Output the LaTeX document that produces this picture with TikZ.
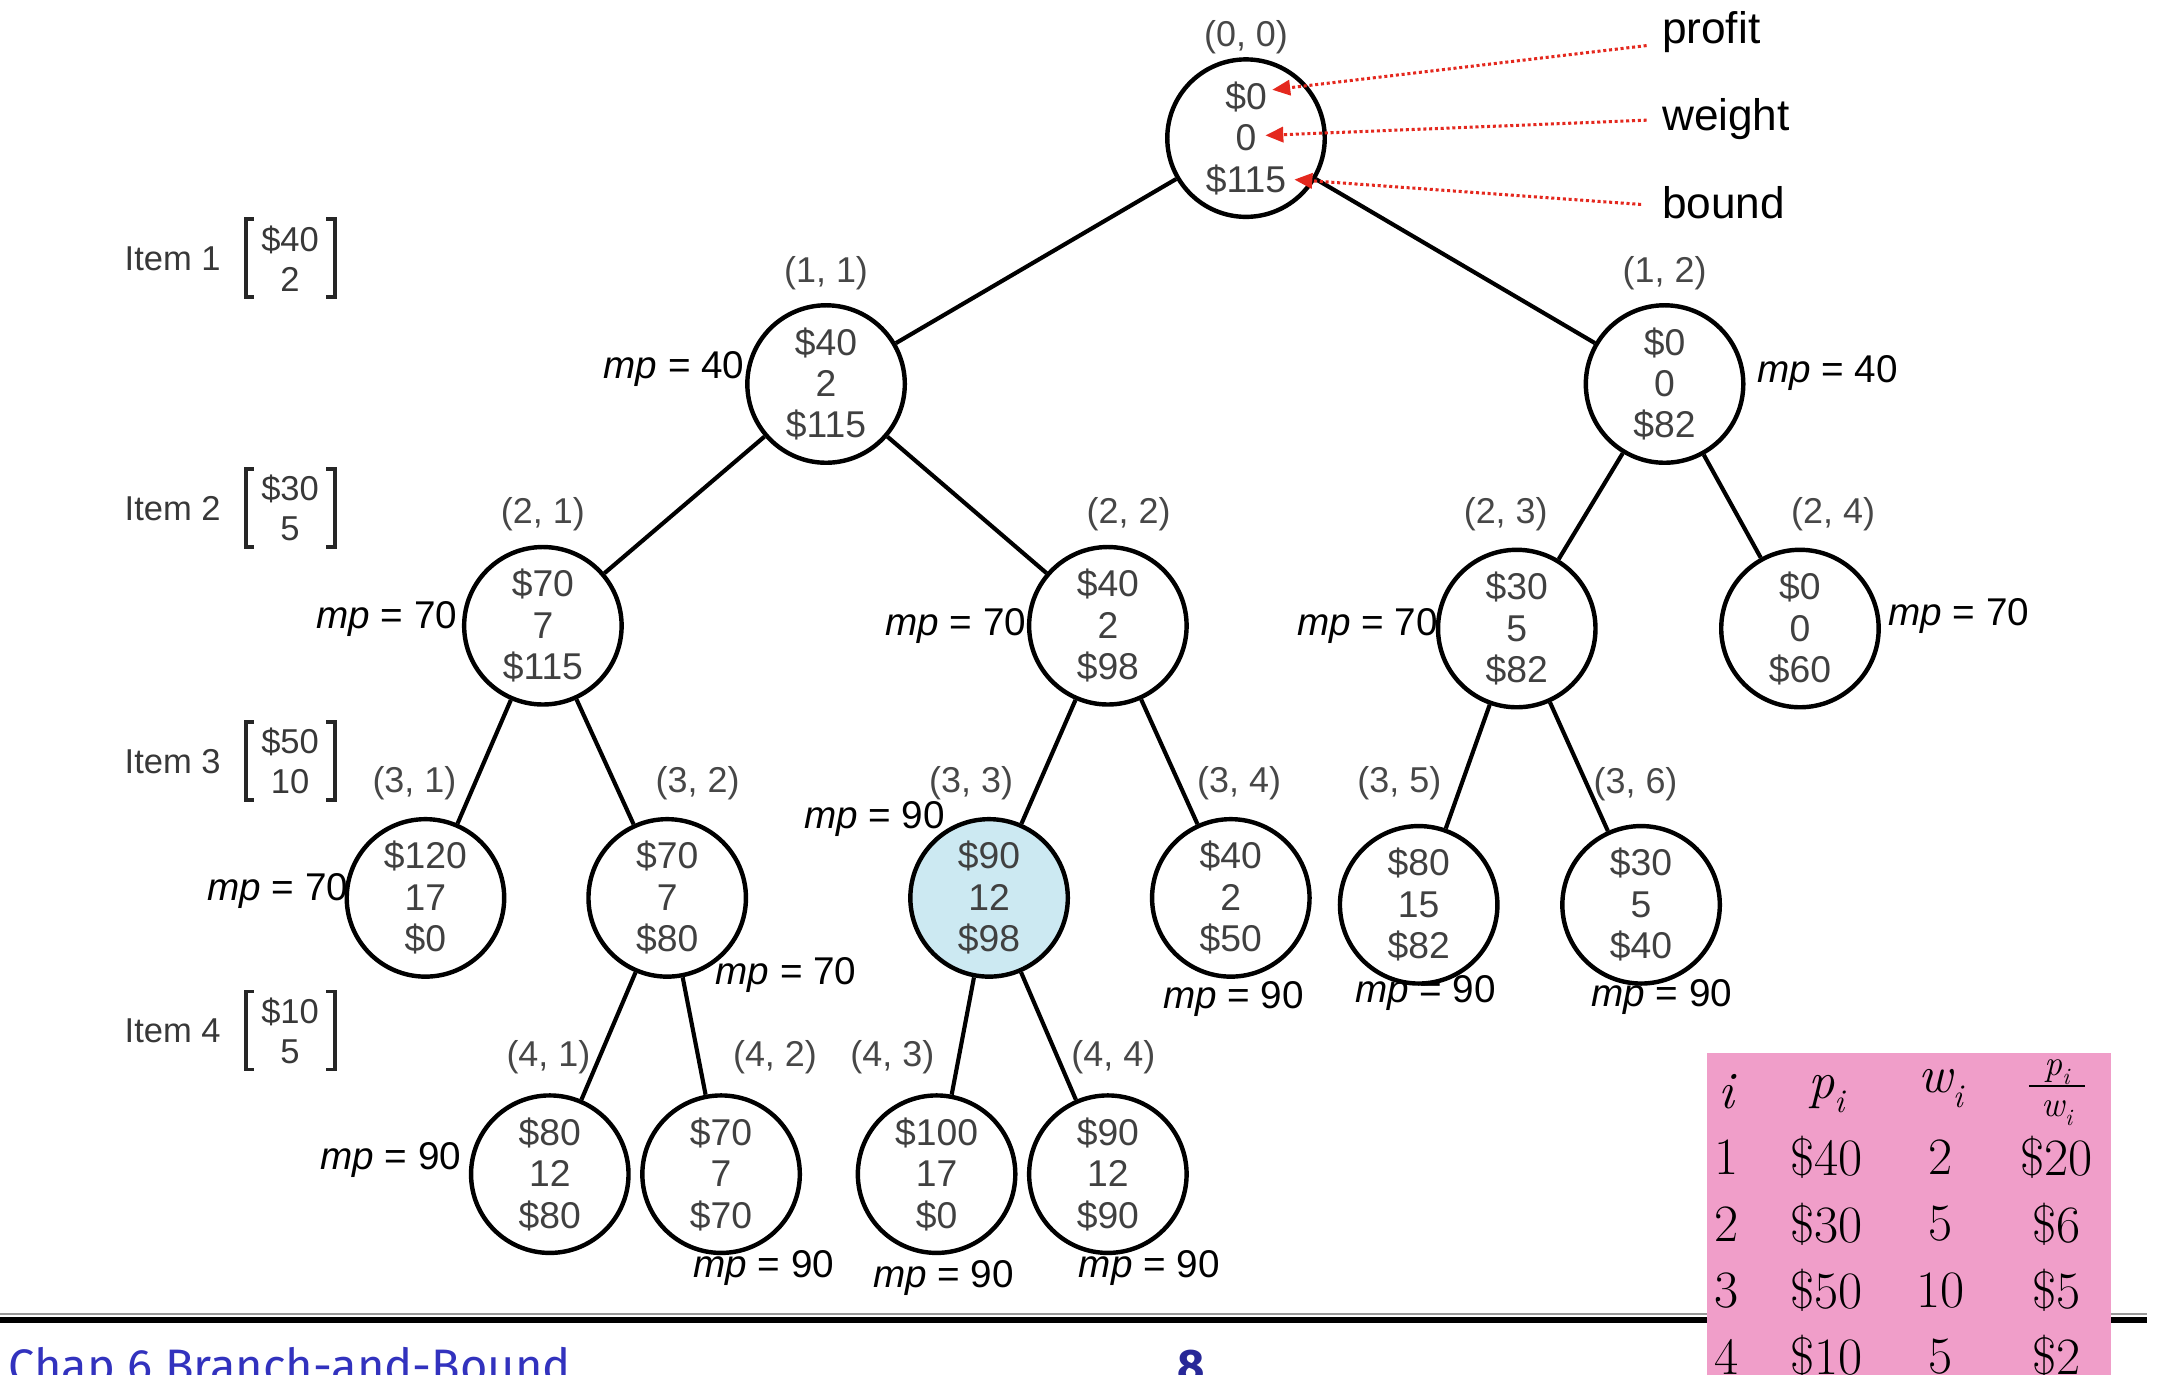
\documentclass[tikz,border=0pt]{standalone}
\usepackage{fontspec}
\setsansfont{Liberation Sans}
\renewcommand{\familydefault}{\sfdefault}
\newfontfamily\footfont{Fira Sans}
\usetikzlibrary{arrows.meta}
\definecolor{pinkbg}{RGB}{240,158,201}
\definecolor{hlblue}{RGB}{204,233,242}
\definecolor{footblue}{RGB}{50,50,190}
\definecolor{annred}{RGB}{228,40,30}
\newcommand{\subi}{\raisebox{-0.28em}{\fontsize{24}{24}\selectfont\itshape i}}
\begin{document}
\begin{tikzpicture}[x=1pt,y=-1pt,
  st/.style={circle, draw=black, line width=3.2pt, minimum size=114pt, inner sep=0pt, align=center,
     font=\fontsize{27}{30}\selectfont, text=black!75},
  poslbl/.style={font=\fontsize{26}{28}\selectfont, text=black!72},
  mpl/.style={font=\fontsize{28}{32}\selectfont, text=black, inner sep=1pt},
  edge/.style={line width=3pt},
  ann/.style={annred, dotted, line width=2.2pt, -{Triangle[length=13pt,width=11pt]}},
  annlbl/.style={font=\fontsize{32}{36}\selectfont, anchor=west, inner sep=0pt},
  itm/.style={font=\fontsize{25}{30}\selectfont, text=black!78},
  vec/.style={minimum width=64pt, minimum height=56pt, inner sep=0pt, align=center,
     font=\fontsize{25}{29}\selectfont, text=black!78},
  brk/.style={line width=2.8pt, black!85},
  tb/.style={font=\rmfamily\fontsize{38}{40}\selectfont, inner sep=0pt},
  tbs/.style={font=\rmfamily\fontsize{26}{28}\selectfont, inner sep=1pt}
]
\useasboundingbox (0,0) rectangle (1568,994.7);
\clip (0,0) rectangle (1568,994.7);

% tree nodes
\node[st] (n00) at (902,100) {\$0\\0\\\$115};
\node[st] (n11) at (598,278) {\$40\\2\\\$115};
\node[st] (n12) at (1205,278) {\$0\\0\\\$82};
\node[st] (n21) at (393,453) {\$70\\7\\\$115};
\node[st] (n22) at (802,453) {\$40\\2\\\$98};
\node[st] (n23) at (1098,455) {\$30\\5\\\$82};
\node[st] (n24) at (1303,455) {\$0\\0\\\$60};
\node[st] (n31) at (308,650) {\$120\\17\\\$0};
\node[st] (n32) at (483,650) {\$70\\7\\\$80};
\node[st, fill=hlblue] (n33) at (716,650) {\$90\\12\\\$98};
\node[st] (n34) at (891,650) {\$40\\2\\\$50};
\node[st] (n35) at (1027,655) {\$80\\15\\\$82};
\node[st] (n36) at (1188,655) {\$30\\5\\\$40};
\node[st] (n41) at (398,850) {\$80\\12\\\$80};
\node[st] (n42) at (522,850) {\$70\\7\\\$70};
\node[st] (n43) at (678,850) {\$100\\17\\\$0};
\node[st] (n44) at (802,850) {\$90\\12\\\$90};

% edges
\draw[edge] (n00) -- (n11);
\draw[edge] (n00) -- (n12);
\draw[edge] (n11) -- (n21);
\draw[edge] (n11) -- (n22);
\draw[edge] (n12) -- (n23);
\draw[edge] (n12) -- (n24);
\draw[edge] (n21) -- (n31);
\draw[edge] (n21) -- (n32);
\draw[edge] (n22) -- (n33);
\draw[edge] (n22) -- (n34);
\draw[edge] (n23) -- (n35);
\draw[edge] (n23) -- (n36);
\draw[edge] (n32) -- (n41);
\draw[edge] (n32) -- (n42);
\draw[edge] (n33) -- (n43);
\draw[edge] (n33) -- (n44);

% position labels
\node[poslbl] (p00) at (902,27) {(0, 0)};
\node[poslbl] (p11) at (598,198) {(1, 1)};
\node[poslbl] (p12) at (1205,198) {(1, 2)};
\node[poslbl] (p21) at (393,372) {(2, 1)};
\node[poslbl] (p22) at (817,372) {(2, 2)};
\node[poslbl] (p23) at (1090,372) {(2, 3)};
\node[poslbl] (p24) at (1327,372) {(2, 4)};
\node[poslbl] (p31) at (300,567) {(3, 1)};
\node[poslbl] (p32) at (505,567) {(3, 2)};
\node[poslbl] (p33) at (703,567) {(3, 3)};
\node[poslbl] (p34) at (897,567) {(3, 4)};
\node[poslbl] (p35) at (1013,567) {(3, 5)};
\node[poslbl] (p36) at (1184,568) {(3, 6)};
\node[poslbl] (p41) at (397,765) {(4, 1)};
\node[poslbl] (p42) at (561,765) {(4, 2)};
\node[poslbl] (p43) at (646,765) {(4, 3)};
\node[poslbl] (p44) at (806,765) {(4, 4)};

% mp labels
\node[mpl] (m11) at (488,267) {\textit{mp} = 40};
\node[mpl] (m12) at (1323,270) {\textit{mp} = 40};
\node[mpl] (m21) at (280,448) {\textit{mp} = 70};
\node[mpl] (m22) at (692,453) {\textit{mp} = 70};
\node[mpl] (m23) at (990,453) {\textit{mp} = 70};
\node[mpl] (m24) at (1418,446) {\textit{mp} = 70};
\node[mpl] (m31) at (201,645) {\textit{mp} = 70};
\node[mpl] (m33) at (633,593) {\textit{mp} = 90};
\node[mpl] (m32) at (569,706) {\textit{mp} = 70};
\node[mpl] (m34) at (893,723) {\textit{mp} = 90};
\node[mpl] (m35) at (1032,719) {\textit{mp} = 90};
\node[mpl] (m36) at (1203,722) {\textit{mp} = 90};
\node[mpl] (m41) at (283,840) {\textit{mp} = 90};
\node[mpl] (m42) at (553,918) {\textit{mp} = 90};
\node[mpl] (m43) at (683,925) {\textit{mp} = 90};
\node[mpl] (m44) at (832,918) {\textit{mp} = 90};

% annotations
\node[annlbl] (lprofit) at (1203,23) {profit};
\node[annlbl] (lweight) at (1203,86) {weight};
\node[annlbl] (lbound) at (1203,147) {bound};
\coordinate (tprofit) at (921,65);
\coordinate (tweight) at (916,98);
\coordinate (tbound) at (937,130);
\draw[ann] ([xshift=-11pt,yshift=-10pt]lprofit.west) -- (tprofit);
\draw[ann] ([xshift=-11pt,yshift=-1pt]lweight.west) -- (tweight);
\draw[ann] ([xshift=-15pt,yshift=-1pt]lbound.west) -- (tbound);

% items
\foreach \k/\y/\p/\w in {1/187/40/2, 2/368/30/5, 3/551/50/10, 4/746/10/5}{
  \node[itm] (it\k) at (125,\y) {Item \k};
  \node[vec] (v\k) at (210,\y) {\$\p\\\w};
  \draw[brk] ([xshift=6pt]v\k.north west) -- (v\k.north west) -- (v\k.south west) -- ([xshift=6pt]v\k.south west);
  \draw[brk] ([xshift=-6pt]v\k.north east) -- (v\k.north east) -- (v\k.south east) -- ([xshift=-6pt]v\k.south east);
}

% footer
\draw[black!40, line width=1.5pt] (0,951.5) -- (1554,951.5);
\draw[black, line width=4.5pt] (0,955.5) -- (1554,955.5);
\node[anchor=base west, inner sep=0pt, font=\footfont\fontsize{34}{36}\selectfont, text=footblue] (foot) at (6,1001) {Chap 6 Branch-and-Bound};
\node[anchor=base, inner sep=0pt, font=\footfont\bfseries\fontsize{34}{36}\selectfont, text=footblue!80!black] (pg) at (862,1001) {8};

% table
\fill[pinkbg] (1236,762) rectangle (1528,1000);
\node[tb] (h1) at (1250,790) {\itshape i};
\node[tb] (h2) at (1322,792) {\itshape p\subi};
\node[tb] (h3) at (1405,788) {\itshape w\subi};
\node[tbs] (h4n) at (1489,776) {\itshape p\raisebox{-0.25em}{\fontsize{17}{17}\selectfont\itshape i}};
\node[tbs] (h4d) at (1489,806) {\itshape w\raisebox{-0.25em}{\fontsize{17}{17}\selectfont\itshape i}};
\draw[line width=1.4pt] ([xshift=-10pt]h4n.south west) -- ([xshift=10pt]h4n.south east);
\node[tb] (r11) at (1250,838) {1};
\node[tb] (r12) at (1322,838) {\$40};
\node[tb] (r13) at (1405,838) {2};
\node[tb] (r14) at (1489,838) {\$20};
\node[tb] (r21) at (1250,886) {2};
\node[tb] (r22) at (1322,886) {\$30};
\node[tb] (r23) at (1405,886) {5};
\node[tb] (r24) at (1489,886) {\$6};
\node[tb] (r31) at (1250,934) {3};
\node[tb] (r32) at (1322,934) {\$50};
\node[tb] (r33) at (1405,934) {10};
\node[tb] (r34) at (1489,934) {\$5};
\node[tb] (r41) at (1250,982) {4};
\node[tb] (r42) at (1322,982) {\$10};
\node[tb] (r43) at (1405,982) {5};
\node[tb] (r44) at (1489,982) {\$2};
\end{tikzpicture}
\end{document}
